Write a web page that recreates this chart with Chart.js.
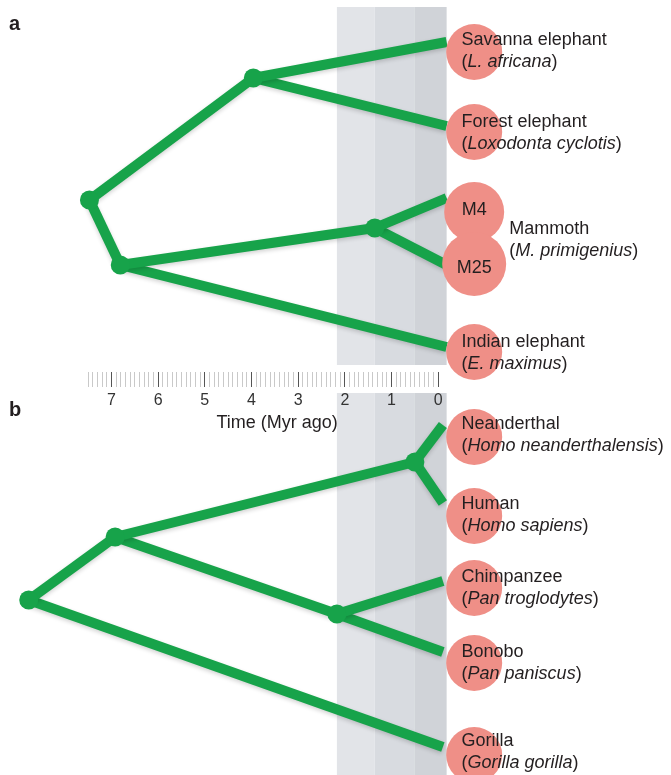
<!DOCTYPE html>
<html>
<head>
<meta charset="utf-8">
<script src="https://cdn.jsdelivr.net/npm/chart.js@4.4.1/dist/chart.umd.min.js"></script>
<style>
  html, body { margin: 0; padding: 0; background: #fff; }
  #wrap { position: relative; width: 671px; height: 775px; }
</style>
</head>
<body>
<div id="wrap"><canvas id="treeChart"></canvas></div>
<script>
// Time axis, Myr ago (ruler runs from 0 to 7.5)
var rulerMax = 7.5;
var tickLabels = ['0', '1', '2', '3', '4', '5', '6', '7'];

// Tree nodes: split time (Myr ago), vertical row, parent index
// 0-8 = panel a (elephants), 9-17 = panel b (hominids)
var nodeTime = [7.47, 3.96, 6.81, 1.36, -0.18, -0.18, -0.18, -0.18, -0.18,
                8.77, 6.92, 0.50, 2.17, -0.10, -0.10, -0.10, -0.10, -0.10];
var nodeRow = [200, 78, 265, 228, 42, 126, 198, 265, 347,
               600, 537, 462, 614, 425, 503, 581, 652, 747];
var nodeParent = [-1, 0, 0, 2, 1, 1, 3, 3, 2,
                  -1, 9, 10, 10, 11, 11, 12, 12, 9];

// Pink sample blobs at the tips
var blobTime = -0.77;
var blobRow = [52, 132, 212, 264, 352, 437, 516, 588, 663, 755];
var blobRadius = [28, 28, 30, 32, 28, 28, 28, 28, 28, 28];
var sampleNames = ['M4', 'M25'];
var sampleRows = [210, 268];

// Species labels
var speciesNames = ['Savanna elephant', 'Forest elephant', 'Mammoth', 'Indian elephant',
                    'Neanderthal', 'Human', 'Chimpanzee', 'Bonobo', 'Gorilla'];
var latinNames = ['L. africana', 'Loxodonta cyclotis', 'M. primigenius', 'E. maximus',
                  'Homo neanderthalensis', 'Homo sapiens', 'Pan troglodytes', 'Pan paniscus', 'Gorilla gorilla'];
var labelTime = [-0.5, -0.5, -1.52, -0.5, -0.5, -0.5, -0.5, -0.5, -0.5];
var labelRow = [40, 122, 229, 342, 424, 504, 577, 652, 741];

// Grey time bands
var bandStart = [2.17, 1.36, 0.50];
var bandEnd = [1.36, 0.50, -0.18];
var bandColors = ['#e2e4e8', '#d8dbe0', '#d0d3d8'];

var green = '#17a34a';
var pink = '#ef8f87';
var textColor = '#231f20';
var fontFamily = '"Liberation Sans", Arial, Helvetica, sans-serif';

// build datasets
var datasets = [];
datasets.push({
    label: 'blobs',
    data: blobRow.map(function (r) { return { x: blobTime, y: r }; }),
    pointRadius: blobRadius,
    backgroundColor: pink,
    borderWidth: 0,
    order: 0
});

var inner = [];
for (var i = 0; i < nodeParent.length; i++) {
    if (nodeParent.indexOf(i) !== -1) inner.push({ x: nodeTime[i], y: nodeRow[i] });
}
datasets.push({
    label: 'nodes',
    data: inner,
    pointRadius: 9.5,
    backgroundColor: green,
    borderWidth: 0,
    order: 1
});

for (var j = 0; j < nodeParent.length; j++) {
    var p = nodeParent[j];
    if (p < 0) continue;
    datasets.push({
        label: 'branch',
        data: [{ x: nodeTime[p], y: nodeRow[p] }, { x: nodeTime[j], y: nodeRow[j] }],
        showLine: true,
        borderColor: green,
        borderWidth: 10,
        borderCapStyle: 'butt',
        pointRadius: 0,
        order: 2
    });
}

function isWhole(v) { return Math.abs(v - Math.round(v)) < 1e-6; }

// bands go under the axis so the tick labels stay on top
var bandPlugin = {
    id: 'bands',
    beforeDraw: function (chart) {
        var ctx = chart.ctx, xs = chart.scales.x, ys = chart.scales.y;
        var spans = [[7, 365], [393, 775]];
        ctx.save();
        for (var k = 0; k < bandStart.length; k++) {
            var x0 = xs.getPixelForValue(bandStart[k]);
            var x1 = xs.getPixelForValue(bandEnd[k]);
            ctx.fillStyle = bandColors[k];
            spans.forEach(function (s) {
                var y0 = ys.getPixelForValue(s[0]), y1 = ys.getPixelForValue(s[1]);
                ctx.fillRect(x0, y0, x1 - x0, y1 - y0);
            });
        }
        ctx.restore();
    }
};

var shadowPlugin = {
    id: 'branchShadow',
    beforeDatasetDraw: function (chart, args) {
        if (chart.data.datasets[args.index].label !== 'branch') return;
        var ctx = chart.ctx;
        ctx.save();
        ctx.shadowColor = 'rgba(0,0,0,0.18)';
        ctx.shadowBlur = 4;
        ctx.shadowOffsetY = 2;
    },
    afterDatasetDraw: function (chart, args) {
        if (chart.data.datasets[args.index].label !== 'branch') return;
        chart.ctx.restore();
    }
};

var labelPlugin = {
    id: 'speciesLabels',
    afterDatasetsDraw: function (chart) {
        var ctx = chart.ctx, xs = chart.scales.x, ys = chart.scales.y;
        var upright = '18px ' + fontFamily;
        var italic = 'italic 18px ' + fontFamily;
        ctx.save();
        ctx.fillStyle = textColor;
        ctx.textBaseline = 'middle';
        ctx.textAlign = 'left';
        for (var k = 0; k < speciesNames.length; k++) {
            var x = xs.getPixelForValue(labelTime[k]);
            var y = ys.getPixelForValue(labelRow[k]);
            ctx.font = upright;
            ctx.fillText(speciesNames[k], x, y);
            var y2 = y + 22;
            ctx.fillText('(', x, y2);
            var cx = x + ctx.measureText('(').width;
            ctx.font = italic;
            ctx.fillText(latinNames[k], cx, y2);
            cx += ctx.measureText(latinNames[k]).width;
            ctx.font = upright;
            ctx.fillText(')', cx, y2);
        }
        // mammoth sample names inside the blobs
        ctx.textAlign = 'center';
        ctx.font = upright;
        for (var m = 0; m < sampleNames.length; m++) {
            ctx.fillText(sampleNames[m], xs.getPixelForValue(blobTime), ys.getPixelForValue(sampleRows[m]));
        }
        // axis title, centred under the ruler
        ctx.font = '18px ' + fontFamily;
        ctx.fillText('Time (Myr ago)', xs.getPixelForValue(3.45), ys.getPixelForValue(423));
        // panel letters
        ctx.textAlign = 'left';
        ctx.textBaseline = 'alphabetic';
        ctx.font = 'bold 20px ' + fontFamily;
        ctx.fillText('a', 9, 30);
        ctx.fillText('b', 9, 416);
        ctx.restore();
    }
};

new Chart(document.getElementById('treeChart').getContext('2d'), {
    type: 'scatter',
    data: { datasets: datasets },
    options: {
        responsive: true, maintainAspectRatio: false,
        animation: false,
        events: [],
        layout: { padding: 0, autoPadding: false },
        plugins: { legend: { display: false }, tooltip: { enabled: false } },
        scales: {
            x: {
                type: 'linear', reverse: true, min: -4.96, max: 9.35,
                position: { y: 372 },
                border: { display: false },
                grid: {
                    drawOnChartArea: false, drawTicks: true, tickLength: 15, tickWidth: 1,
                    tickColor: function (c) {
                        var v = c.tick ? c.tick.value : null;
                        if (v === null || v < -0.01 || v > rulerMax + 0.01) return 'rgba(0,0,0,0)';
                        return isWhole(v) ? '#555555' : '#c9c9c9';
                    }
                },
                ticks: {
                    stepSize: 0.1, autoSkip: false, includeBounds: false,
                    maxRotation: 0, minRotation: 0, padding: 4,
                    color: '#333333', font: { size: 16, family: fontFamily },
                    callback: function (value) {
                        var v = Math.round(value);
                        if (isWhole(value) && v >= 0 && v <= 7) return tickLabels[v];
                        return '';
                    }
                }
            },
            y: { type: 'linear', reverse: true, min: 0, max: 775, display: false }
        }
    },
    plugins: [bandPlugin, shadowPlugin, labelPlugin]
});
</script>
</body>
</html>
